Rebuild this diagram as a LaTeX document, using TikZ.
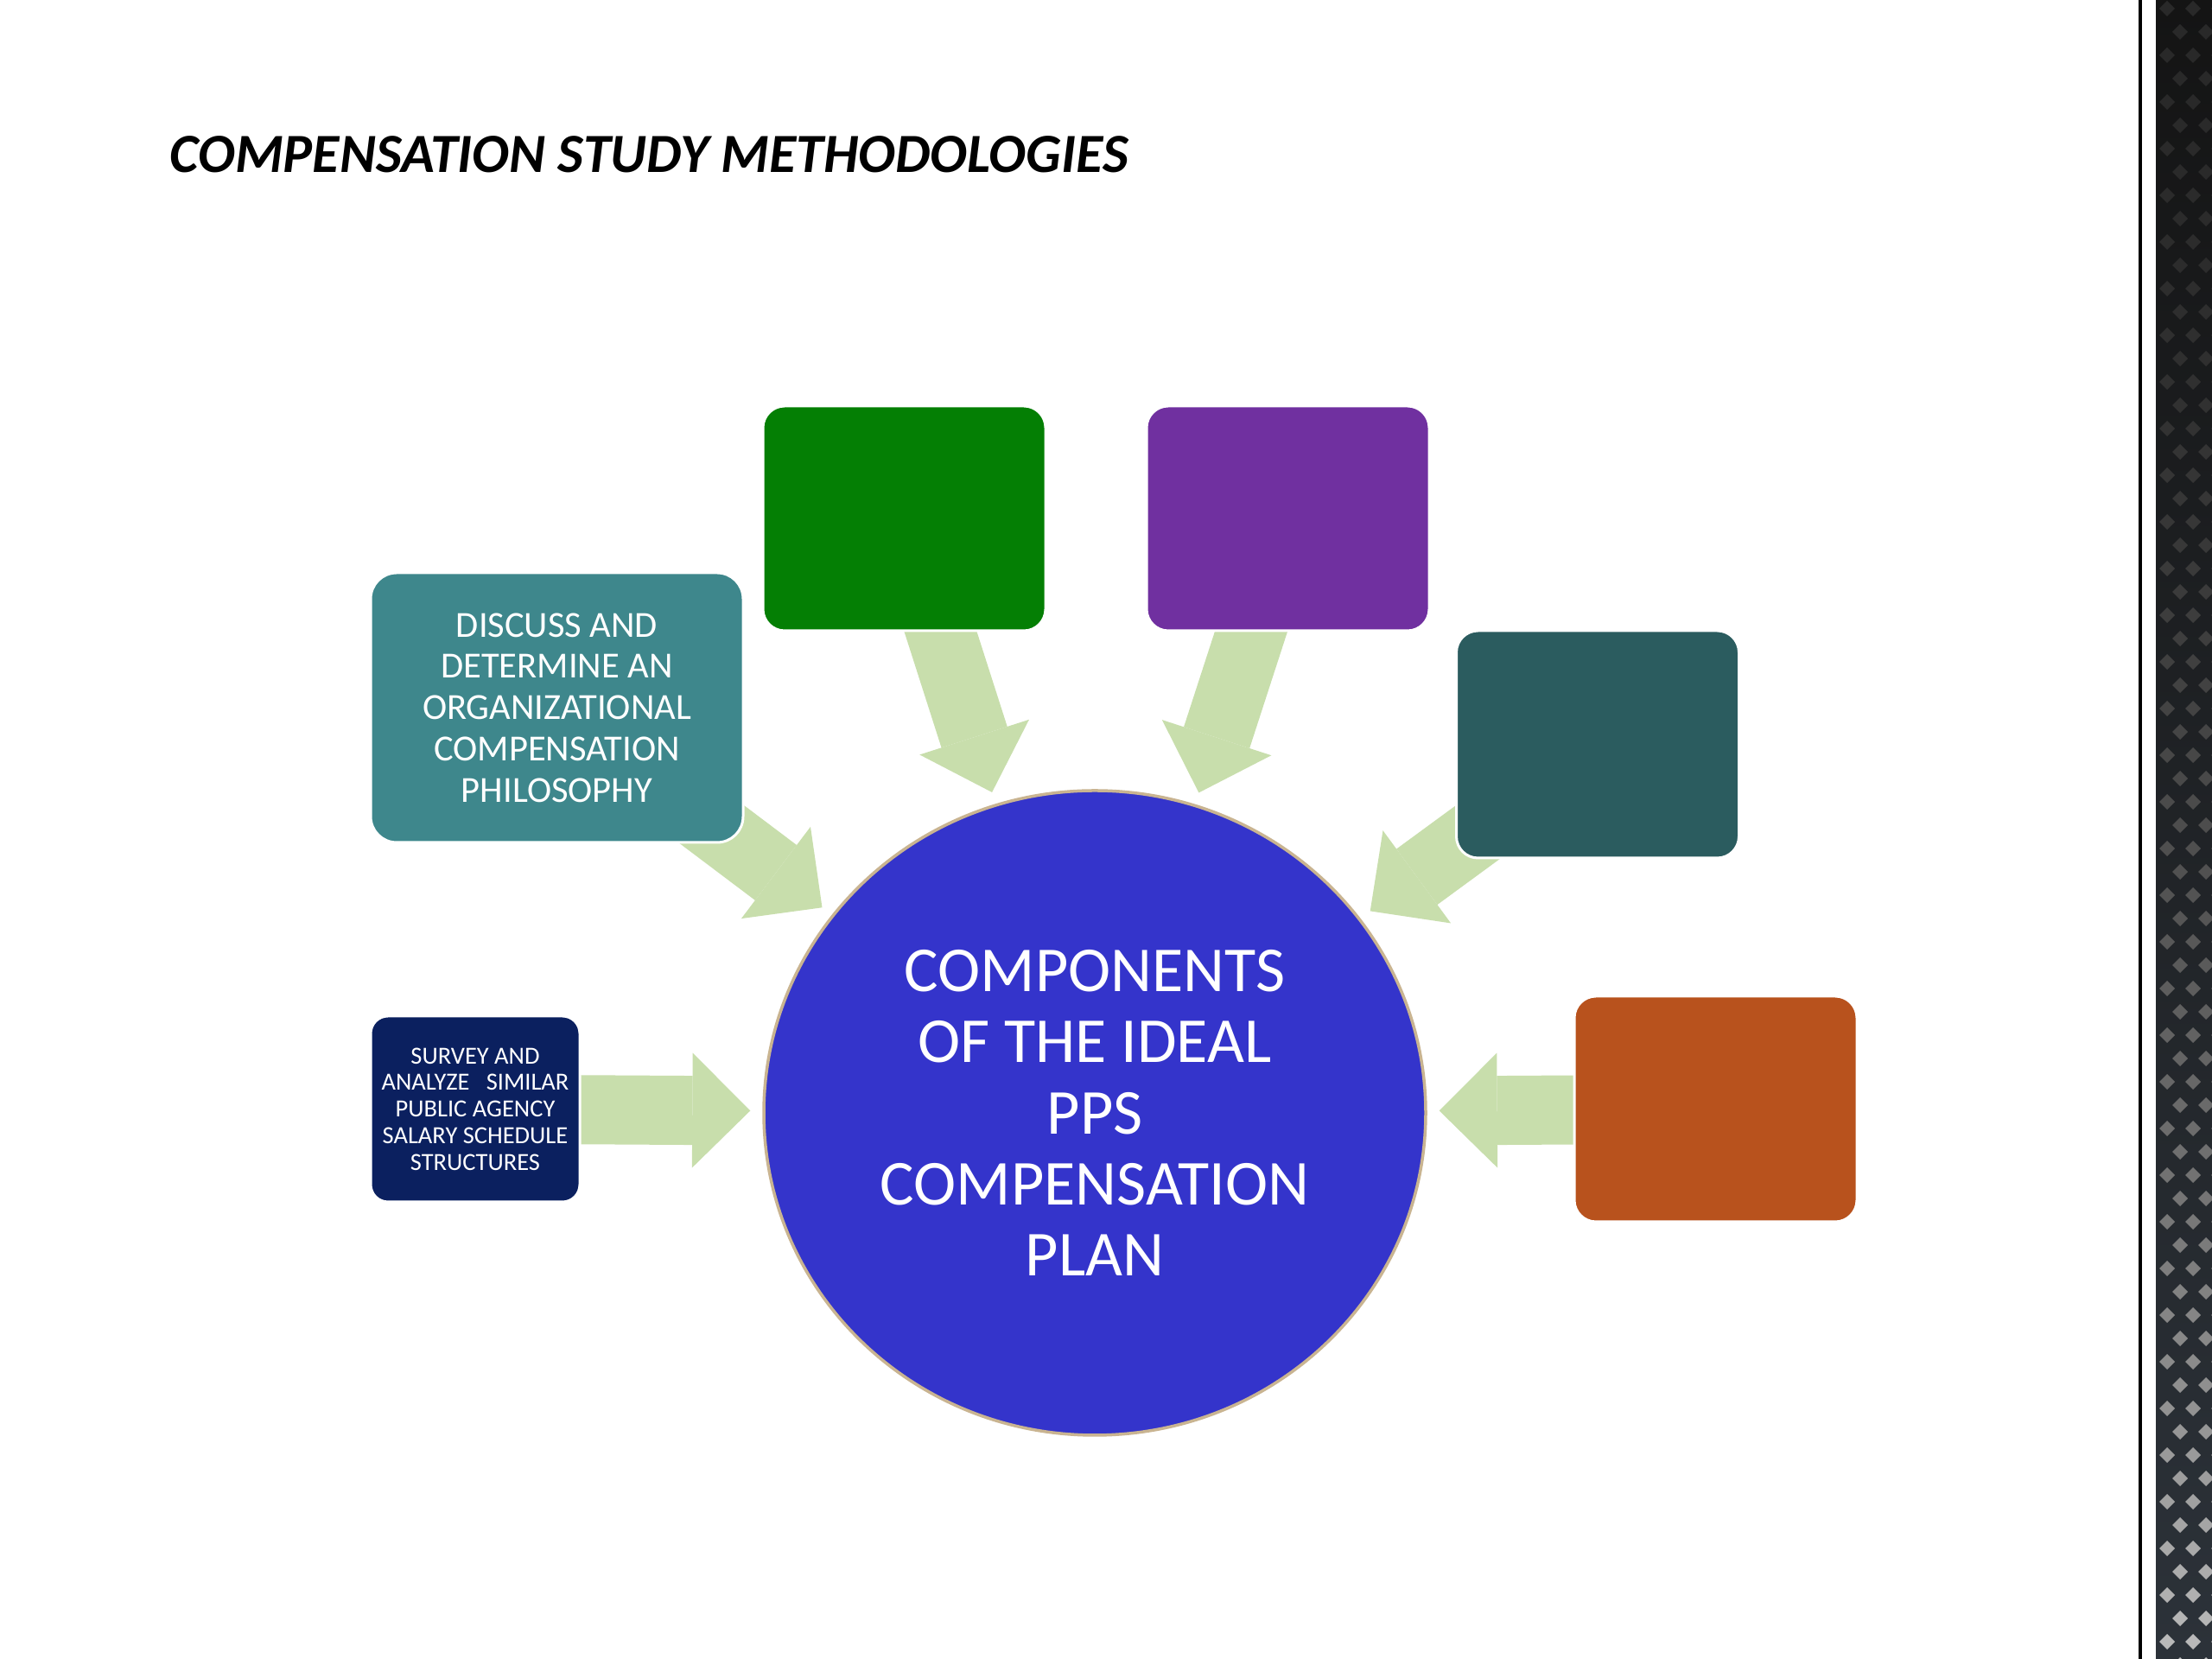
\documentclass[tikz,border=0pt]{standalone}
\usepackage{fontspec}
\setmainfont{Carlito}
\usepackage{tikz}
\usetikzlibrary{arrows.meta,backgrounds,shapes.geometric}
\definecolor{chub}{HTML}{3434CB}
\definecolor{crim}{HTML}{C9B491}
\definecolor{cdisc}{HTML}{3E878C}
\definecolor{cgreen}{HTML}{047F04}
\definecolor{cpurple}{HTML}{7030A0}
\definecolor{cslate}{HTML}{2B5C5F}
\definecolor{crust}{HTML}{B8521D}
\definecolor{cnavy}{HTML}{0B205F}
\definecolor{carrow}{HTML}{C8DEAC}
\definecolor{cstriptop}{HTML}{141414}
\definecolor{cstripbot}{HTML}{2C3239}
\tikzset{
  box/.style={draw=white, line width=0.03cm, rounded corners=0.25cm, inner sep=0pt, text=white, align=center},
  wide/.style={box, minimum width=3.27cm, minimum height=2.61cm},
  core/.style={ellipse, draw=crim, line width=0.035cm, fill=chub, minimum width=7.66cm, minimum height=7.46cm, inner sep=0pt, text=white, align=center, font=\fontsize{21.1}{23.4}\selectfont},
  flow/.style={draw=carrow, line width=0.8cm, -{Triangle[length=0.67cm, width=1.33cm, line width=0pt]}, shorten >=0.14cm},
  heading/.style={anchor=base west, inner sep=0pt, font=\fontsize{18.2}{22}\selectfont\bfseries\itshape},
}

\begin{document}
\begin{tikzpicture}[x=1cm,y=1cm]
\useasboundingbox (0,0) rectangle (25.6,19.2);
\node[heading] (title) at (1.96,17.20) {COMPENSATION STUDY METHODOLOGIES};
\node[core] (plan) at (12.67,6.32) {COMPONENTS\\OF THE IDEAL\\PPS\\COMPENSATION\\PLAN};
\node[box, fill=cdisc, minimum width=4.31cm, minimum height=3.12cm, rounded corners=0.3cm, font=\fontsize{12.1}{13.6}\selectfont] (disc) at (6.445,11.01) {DISCUSS AND\\DETERMINE AN\\ORGANIZATIONAL\\COMPENSATION\\PHILOSOPHY};
\node[box, fill=cnavy, minimum width=2.42cm, minimum height=2.15cm, rounded corners=0.2cm, font=\fontsize{8.1}{8.75}\selectfont] (survey) at (5.50,6.365) {SURVEY AND\\ANALYZE~~~SIMILAR\\PUBLIC AGENCY\\SALARY SCHEDULE\\STRUCTURES};
\node[wide, fill=cgreen, minimum height=2.60cm] (green) at (10.465,13.20) {};
\node[wide, fill=cpurple, minimum height=2.60cm] (purple) at (14.905,13.20) {};
\node[wide, fill=cslate, minimum height=2.63cm] (slate) at (18.49,10.585) {};
\node[wide, fill=crust] (rust) at (19.855,6.365) {};
\begin{scope}[on background layer]
\fill[white] (0,0) rectangle (25.6,19.2);
\draw[flow] (disc.center) -- (plan); \draw[flow] (survey.center) -- (plan);
\draw[flow] (green.center) -- (plan); \draw[flow] (purple.center) -- (plan);
\draw[flow] (slate.center) -- (plan); \draw[flow] (rust.center) -- (plan);
\end{scope}
\draw[line width=0.04cm] (24.77,0) -- (24.77,19.2);
\begin{scope}
\clip (24.95,0) rectangle (25.6,19.2);
\shade[top color=cstriptop, bottom color=cstripbot] (24.95,0) rectangle (25.6,19.2);
\foreach \r [evaluate=\r as \sh using {16+58*(\r/71)*(\r/71)}] in {0,...,71}
  \foreach \c in {0,1,2}
    \fill[white!\sh!black] ({25.08+0.3*\c+0.15*mod(\r,2)},{19.1-0.27*\r}) ++(0,0.09) -- ++(0.09,-0.09) -- ++(-0.09,-0.09) -- ++(-0.09,0.09) -- cycle;
\end{scope}
\end{tikzpicture}
\end{document}
